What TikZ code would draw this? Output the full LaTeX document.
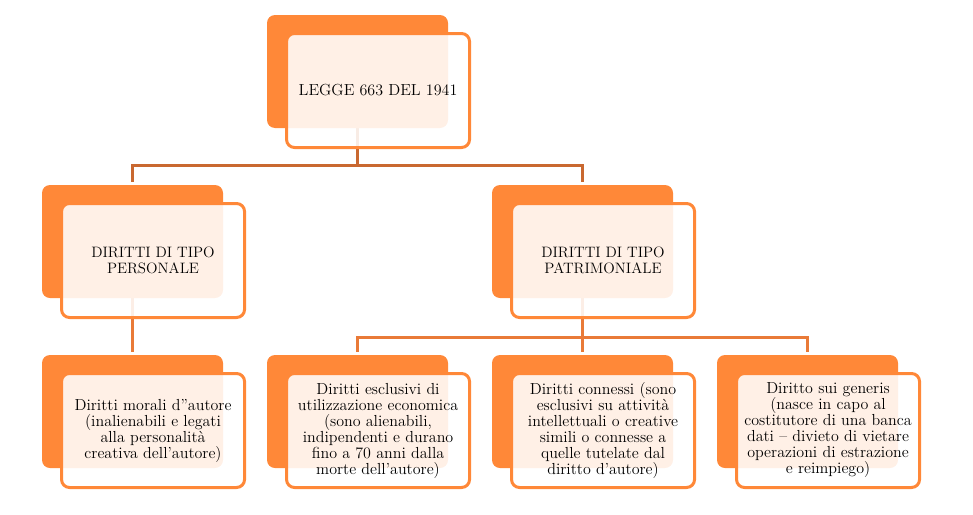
\documentclass[tikz,border=0pt]{standalone}
\usepackage{fontspec}
\usetikzlibrary{backgrounds}

\definecolor{boxorange}{RGB}{255,136,56}
\definecolor{lineone}{RGB}{201,104,48}
\definecolor{linetwo}{RGB}{233,122,56}

\begin{document}
\begin{tikzpicture}[x=0.75pt,y=-0.75pt,
  back/.style={fill=boxorange, rounded corners=6pt, minimum width=135.75pt, minimum height=84.75pt, inner sep=0pt},
  front/.style={draw=boxorange, line width=2.25pt, fill=white, fill opacity=0.88, text opacity=1, rounded corners=6pt,
    minimum width=137.25pt, minimum height=85.5pt, inner sep=0pt, align=center, xshift=15.4pt, yshift=-14.25pt},
  big/.style={font=\fontsize{12}{15}\selectfont},
  mid/.style={font=\fontsize{11.3}{12.5}\selectfont},
  small/.style={font=\fontsize{12}{12}\selectfont},
  link/.style={line width=2.25pt, shorten >=2.25pt}]
\useasboundingbox (0,0) rectangle (973,514);

% Level 1
\node[back] (legge) at (357.5,71.5) {};
\node[front,big] (legge-t) at (legge) {LEGGE 663 DEL 1941};

% Level 2
\node[back] (pers) at (132.5,241.5) {};
\node[front,mid] (pers-t) at (pers) {DIRITTI DI TIPO\\PERSONALE};
\node[back] (patr) at (582.5,241.5) {};
\node[front,mid] (patr-t) at (patr) {DIRITTI DI TIPO\\PATRIMONIALE};

% Level 3
\node[back] (morali) at (132.5,411.5) {};
\node[front,small] (morali-t) at (morali) {Diritti morali d”autore\\(inalienabili e legati\\alla personalità\\creativa dell'autore)};
\node[back] (esclusivi) at (357.5,411.5) {};
\node[front,small] (esclusivi-t) at (esclusivi) {Diritti esclusivi di\\utilizzazione economica\\(sono alienabili,\\indipendenti e durano\\fino a 70 anni dalla\\morte dell'autore)};
\node[back] (connessi) at (582.5,411.5) {};
\node[front,small] (connessi-t) at (connessi) {Diritti connessi (sono\\esclusivi su attività\\intellettuali o creative\\simili o connesse a\\quelle tutelate dal\\diritto d'autore)};
\node[back] (generis) at (807.5,411.5) {};
\node[front,small] (generis-t) at (generis) {Diritto sui generis\\(nasce in capo al\\costitutore di una banca\\dati -- divieto di vietare\\operazioni di estrazione\\e reimpiego)};

% Connectors (behind the boxes)
\begin{scope}[on background layer]
\draw[link,lineone] (legge.south) -- ++(0,37.5) -| (pers.north);
\draw[link,lineone] (legge.south) -- ++(0,37.5) -| (patr.north);
\draw[link,linetwo] (pers.south) -- (morali.north);
\draw[link,linetwo] (patr.south) -- ++(0,39) -| (esclusivi.north);
\draw[link,linetwo] (patr.south) -- ++(0,39) -| (generis.north);
\draw[link,linetwo] (patr.south) -- (connessi.north);
\end{scope}

\end{tikzpicture}
\end{document}
